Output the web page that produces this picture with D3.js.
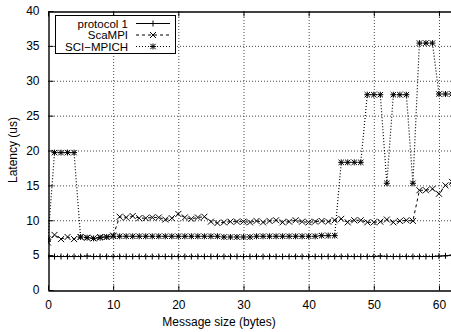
<!DOCTYPE html>
<html>
  <head>
    <meta charset="utf-8">
    <title>Latency</title>
    <script src="https://d3js.org/d3.v7.min.js"></script>
    <style>
      body { margin: 0; background: #fff; }
      svg { font-family: "Liberation Sans", Arial, sans-serif; }
      .tick-label { font-size: 12px; fill: #000; }
      .axis-label { font-size: 12px; fill: #000; }
      .legend-label { font-size: 11.5px; fill: #000; }
      .gridline { stroke: #444; stroke-width: 1; stroke-dasharray: 1,2; }
    </style>
  </head>
  <body>
    <script type="text/javascript">
    // message sizes in bytes
    var messageSizes = [0, 1, 2, 3, 4, 5, 6, 7, 8, 9, 10, 11, 12, 13, 14, 15, 16, 17, 18, 19, 20,
      21, 22, 23, 24, 25, 26, 27, 28, 29, 30, 31, 32, 33, 34, 35, 36, 37, 38, 39, 40,
      41, 42, 43, 44, 45, 46, 47, 48, 49, 50, 51, 52, 53, 54, 55, 56, 57, 58, 59, 60, 61, 62];

    var protocol1 = [4.8, 4.8, 4.8, 4.8, 4.8, 4.8, 4.85, 4.8, 4.8, 4.8, 4.8, 4.8, 4.8, 4.8, 4.8, 4.8, 4.8, 4.8, 4.8, 4.8, 4.8,
      4.8, 4.8, 4.8, 4.8, 4.8, 4.8, 4.8, 4.8, 4.8, 4.8, 4.8, 4.8, 4.8, 4.8, 4.8, 4.8, 4.8, 4.8, 4.8, 4.8,
      4.8, 4.8, 4.8, 4.8, 4.8, 4.8, 4.8, 4.8, 4.8, 4.8, 4.85, 4.8, 4.8, 4.8, 4.8, 4.8, 4.8, 4.8, 4.8, 4.85, 4.9, 5.0];

    var scaMPI = [6.8, 7.9, 7.3, 7.6, 7.3, 7.6, 7.5, 7.4, 7.6, 7.6, 7.8, 10.5, 10.4, 10.6, 10.3, 10.3, 10.4, 10.4, 10.1, 10.3, 10.9,
      10.4, 10.2, 10.4, 10.5, 9.8, 9.6, 9.7, 9.8, 9.8, 9.8, 9.7, 9.9, 9.7, 9.9, 10.0, 9.7, 9.8, 10.0, 9.8, 9.7,
      9.8, 9.9, 9.8, 10.0, 10.2, 9.7, 10.0, 10.0, 9.7, 9.7, 9.8, 10.1, 9.7, 9.9, 10.0, 9.9, 14.3, 14.3, 14.5, 13.8, 15.0, 15.5];

    var sciMPICH = [7.3, 19.7, 19.7, 19.7, 19.7, 7.6, 7.5, 7.4, 7.5, 7.6, 7.7, 7.7, 7.7, 7.7, 7.7, 7.7, 7.7, 7.7, 7.7, 7.7, 7.7,
      7.7, 7.7, 7.7, 7.7, 7.7, 7.7, 7.6, 7.6, 7.6, 7.6, 7.6, 7.7, 7.7, 7.7, 7.7, 7.7, 7.7, 7.7, 7.7, 7.7,
      7.7, 7.8, 7.8, 7.8, 18.3, 18.3, 18.3, 18.3, 28.0, 28.0, 28.0, 15.3, 28.0, 28.0, 28.0, 15.3, 35.4, 35.4, 35.4, 28.1, 28.1, 28.1];

    var seriesNames = ['protocol 1', 'ScaMPI', 'SCI\u2212MPICH'];
    var xTicks = [0, 10, 20, 30, 40, 50, 60];
    var yTicks = [0, 5, 10, 15, 20, 25, 30, 35, 40];

    var W = 451, H = 332;
    var plotLeft = 48, plotRight = 452, plotTop = 11, plotBottom = 290;

    var xScale = d3.scaleLinear().domain([0, 62]).range([plotLeft, plotRight]);
    var yScale = d3.scaleLinear().domain([0, 40]).range([plotBottom, plotTop]);

    var svg = d3.select('body').append('svg')
        .attr('width', W)
        .attr('height', H);

    // gridlines
    svg.append('g')
      .selectAll('line')
      .data(xTicks.filter(function(d) { return d > 0; }))
      .enter().append('line')
        .attr('class', 'gridline')
        .attr('x1', function(d) { return xScale(d) + 0.5; })
        .attr('x2', function(d) { return xScale(d) + 0.5; })
        .attr('y1', plotTop)
        .attr('y2', plotBottom);

    svg.append('g')
      .selectAll('line')
      .data(yTicks.filter(function(d) { return d > 0 && d < 40; }))
      .enter().append('line')
        .attr('class', 'gridline')
        .attr('x1', plotLeft)
        .attr('x2', plotRight)
        .attr('y1', function(d) { return yScale(d) + 0.5; })
        .attr('y2', function(d) { return yScale(d) + 0.5; });

    // axes with inward ticks
    svg.append('g')
      .attr('transform', 'translate(0,' + (plotBottom + 0.5) + ')')
      .call(d3.axisBottom(xScale).tickValues(xTicks).tickSize(-5).tickPadding(10).tickSizeOuter(0))
      .call(function(g) {
        g.select('.domain').attr('stroke-width', 1.4);
        g.selectAll('text').attr('class', 'tick-label').attr('font-size', null).attr('font-family', null);
      });

    svg.append('g')
      .attr('transform', 'translate(0,' + (plotTop + 0.5) + ')')
      .call(d3.axisTop(xScale).tickValues(xTicks).tickSize(-5).tickFormat('').tickSizeOuter(0))
      .call(function(g) { g.select('.domain').attr('stroke-width', 1.4); });

    svg.append('g')
      .attr('transform', 'translate(' + (plotLeft + 0.5) + ',0)')
      .call(d3.axisLeft(yScale).tickValues(yTicks).tickSize(-5).tickPadding(9).tickSizeOuter(0))
      .call(function(g) {
        g.select('.domain').attr('stroke-width', 1.4);
        g.selectAll('text').attr('class', 'tick-label').attr('font-size', null).attr('font-family', null);
      });

    // axis labels
    svg.append('text')
      .attr('class', 'axis-label')
      .attr('x', 219)
      .attr('y', 326)
      .style('text-anchor', 'middle')
      .text('Message size (bytes)');

    svg.append('text')
      .attr('class', 'axis-label')
      .attr('transform', 'rotate(-90)')
      .attr('x', -150)
      .attr('y', 17)
      .style('text-anchor', 'middle')
      .text('Latency (us)');

    // markers
    function plus(g, x, y, s) {
      g.append('path').attr('d', 'M' + (x - s) + ',' + y + 'H' + (x + s) + 'M' + x + ',' + (y - s) + 'V' + (y + s));
    }
    function cross(g, x, y, s) {
      g.append('path').attr('d', 'M' + (x - s) + ',' + (y - s) + 'L' + (x + s) + ',' + (y + s) +
        'M' + (x - s) + ',' + (y + s) + 'L' + (x + s) + ',' + (y - s));
    }
    function star(g, x, y, s) {
      plus(g, x, y, s);
      cross(g, x, y, s * 0.9);
    }

    var series = [
      { name: seriesNames[0], values: protocol1, dash: null, width: 1, marker: plus },
      { name: seriesNames[1], values: scaMPI, dash: '3,3', width: 1, marker: cross },
      { name: seriesNames[2], values: sciMPICH, dash: '1,2', width: 1.2, marker: star }
    ];

    var line = d3.line()
      .x(function(d) { return xScale(d[0]); })
      .y(function(d) { return yScale(d[1]); });

    svg.append('clipPath').attr('id', 'plot-clip')
      .append('rect').attr('x', plotLeft).attr('y', plotTop - 4)
      .attr('width', plotRight - plotLeft).attr('height', plotBottom - plotTop + 8);

    var plot = svg.append('g').attr('clip-path', 'url(#plot-clip)');

    series.forEach(function(s) {
      var pts = messageSizes.map(function(m, i) { return [m, s.values[i]]; });
      plot.append('path')
        .datum(pts)
        .attr('fill', 'none')
        .attr('stroke', '#000')
        .attr('stroke-width', s.width)
        .attr('stroke-dasharray', s.dash)
        .attr('d', line);
      var mg = plot.append('g').attr('stroke', '#000').attr('stroke-width', 1).attr('fill', 'none');
      pts.forEach(function(p) {
        s.marker(mg, xScale(p[0]), yScale(p[1]), 3);
      });
    });

    // legend
    var legend = svg.append('g');
    legend.append('rect')
      .attr('x', 55.5).attr('y', 15.5)
      .attr('width', 120).attr('height', 38)
      .attr('fill', '#fff').attr('stroke', '#000').attr('stroke-width', 1);

    series.forEach(function(s, i) {
      var y = 23.5 + i * 11.5;
      legend.append('text')
        .attr('class', 'legend-label')
        .attr('x', 128)
        .attr('y', y + 4.2)
        .style('text-anchor', 'end')
        .text(s.name);
      legend.append('line')
        .attr('x1', 136).attr('x2', 170)
        .attr('y1', y).attr('y2', y)
        .attr('stroke', '#000')
        .attr('stroke-width', s.width)
        .attr('stroke-dasharray', s.dash);
      var mg = legend.append('g').attr('stroke', '#000').attr('stroke-width', 1).attr('fill', 'none');
      s.marker(mg, 153, y, 3);
    });
    </script>
  </body>
</html>
